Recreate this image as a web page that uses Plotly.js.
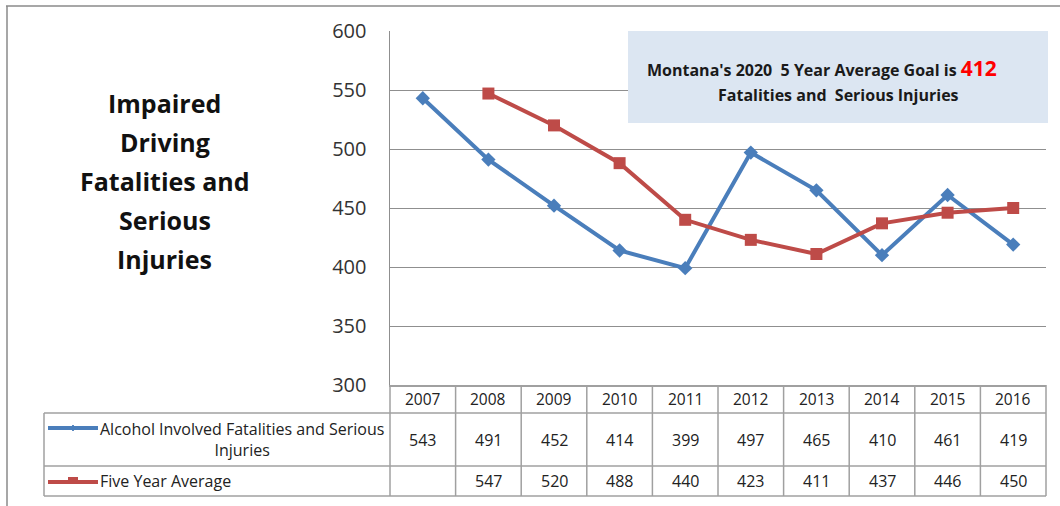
<!DOCTYPE html>
<html>
<head>
<meta charset="utf-8">
<script src="https://cdn.plot.ly/plotly-3.0.1.min.js"></script>
<style>html,body{margin:0;padding:0;background:#fff;}#chart{width:1060px;height:506px;}</style>
</head>
<body>
<div id="chart"></div>
<script>
// ---- data ----
const years = [2007, 2008, 2009, 2010, 2011, 2012, 2013, 2014, 2015, 2016];
const alcohol = [543, 491, 452, 414, 399, 497, 465, 410, 461, 419];
const fiveYearAvg = [null, 547, 520, 488, 440, 423, 411, 437, 446, 450];
const seriesNames = ["Alcohol Involved Fatalities and Serious<br>Injuries", "Five Year Average"];
const titleLines = ["Impaired", "Driving", "Fatalities and", "Serious", "Injuries"];
const goalValue = 412;

// ---- layout helpers (pixel -> paper) ----
const W = 1060, H = 506, L = 390, R = 1046, T = 31, B = 385;
const px = x => (x - L) / (R - L);
const py = y => (B - y) / (B - T);
const FONT = "'Open Sans', Lato, sans-serif";
const BLUE = "#4a7ebb", RED = "#be4b48", GRID = "#8f8f8f", TBL = "#a0a0a0";

const traces = [
  {x: years, y: alcohol, type: "scatter", mode: "lines+markers", name: "Alcohol",
   line: {color: BLUE, width: 4}, marker: {symbol: "diamond", size: 11, color: BLUE}},
  {x: years, y: fiveYearAvg, type: "scatter", mode: "lines+markers", name: "Five Year Average",
   line: {color: RED, width: 4}, marker: {symbol: "square", size: 12, color: RED}}
];

const shapes = [];
function hline(x0, x1, y, color, w) { shapes.push({type: "line", xref: "paper", yref: "paper", x0: px(x0), x1: px(x1), y0: py(y), y1: py(y), line: {color: color, width: w}}); }
function vline(x, y0, y1, color, w) { shapes.push({type: "line", xref: "paper", yref: "paper", x0: px(x), x1: px(x), y0: py(y0), y1: py(y1), line: {color: color, width: w}}); }

// outer frame (top and left visible)
hline(6, 1060, 6, "#8a8a8a", 1.5);
vline(7, 6, 506, "#8a8a8a", 1.5);

// goal box
shapes.push({type: "rect", xref: "paper", yref: "paper", x0: px(628), x1: px(1048), y0: py(123), y1: py(31),
  fillcolor: "#dce6f2", line: {width: 0}, layer: "above"});

// data table grid
const colW = (R - L) / years.length;
const r1 = 413, r2 = 466, r3 = 496;
hline(44, R, r1, TBL, 1.5);
hline(44, R, r2, TBL, 1.5);
hline(44, R, r3, TBL, 1.5);
vline(44, r1, r3, TBL, 1.5);
vline(L, 385, r3, TBL, 1.5);
for (let i = 1; i <= years.length; i++) vline(L + i * colW, 385, r3, TBL, 1.5);

// legend keys inside table
hline(48, 98, 428, BLUE, 4);
shapes.push({type: "path", xref: "paper", yref: "paper",
  path: `M ${px(73)} ${py(425)} L ${px(75)} ${py(428)} L ${px(73)} ${py(431)} L ${px(71)} ${py(428)} Z`,
  fillcolor: BLUE, line: {color: BLUE, width: 1}});
hline(48, 98, 482, RED, 4);
shapes.push({type: "rect", xref: "paper", yref: "paper", x0: px(68), x1: px(78), y0: py(483), y1: py(477),
  fillcolor: RED, line: {width: 0}});

const annotations = [];
// title lines
titleLines.forEach((t, i) => {
  annotations.push({xref: "paper", yref: "paper", x: px(165), y: py(103 + i * 39), xanchor: "center", yanchor: "middle",
    text: "<b>" + t + "</b>", showarrow: false, font: {family: FONT, size: 25, color: "#111"}});
});
// goal box text
annotations.push({xref: "paper", yref: "paper", x: px(822), y: py(68), xanchor: "center", yanchor: "middle", showarrow: false,
  text: "<b>Montana's 2020  5 Year Average Goal is </b><b><span style=\"color:#ff0000;font-size:21px\">" + goalValue + "</span></b>",
  font: {family: FONT, size: 16, color: "#1a1a1a"}});
annotations.push({xref: "paper", yref: "paper", x: px(838), y: py(95), xanchor: "center", yanchor: "middle", showarrow: false,
  text: "<b>Fatalities and  Serious Injuries</b>", font: {family: FONT, size: 16, color: "#1a1a1a"}});
// table: years header and values
years.forEach((yr, i) => {
  annotations.push({xref: "x", yref: "paper", x: yr, y: py(399), yanchor: "middle", showarrow: false,
    text: String(yr), font: {family: FONT, size: 15.5, color: "#222"}});
  annotations.push({xref: "x", yref: "paper", x: yr, y: py(440), yanchor: "middle", showarrow: false,
    text: String(alcohol[i]), font: {family: FONT, size: 16, color: "#222"}});
  if (fiveYearAvg[i] !== null)
    annotations.push({xref: "x", yref: "paper", x: yr, y: py(481), yanchor: "middle", showarrow: false,
      text: String(fiveYearAvg[i]), font: {family: FONT, size: 16, color: "#222"}});
});
// legend labels
annotations.push({xref: "paper", yref: "paper", x: px(242), y: py(439), xanchor: "center", yanchor: "middle", align: "center",
  showarrow: false, text: seriesNames[0], font: {family: FONT, size: 16, color: "#222"}});
annotations.push({xref: "paper", yref: "paper", x: px(98), y: py(481), xanchor: "left", yanchor: "middle",
  showarrow: false, text: seriesNames[1], font: {family: FONT, size: 16, color: "#222"}});

const layout = {
  width: W, height: H,
  margin: {l: L, r: W - R, t: T, b: H - B, pad: 0},
  paper_bgcolor: "#fff", plot_bgcolor: "#fff",
  showlegend: false,
  font: {family: FONT},
  xaxis: {type: "linear", range: [2006.5, 2016.5], showticklabels: false, showgrid: false, zeroline: false,
    showline: true, linecolor: TBL, linewidth: 1.5, ticks: ""},
  yaxis: {range: [300, 600], dtick: 50, tick0: 300, showgrid: true, gridcolor: GRID, gridwidth: 1, zeroline: false,
    showline: true, linecolor: GRID, linewidth: 1.5, ticks: "", ticklabelstandoff: 18,
    tickfont: {family: FONT, size: 20, color: "#333"}},
  shapes: shapes,
  annotations: annotations
};

Plotly.newPlot("chart", traces, layout, {staticPlot: true, displayModeBar: false});
</script>
</body>
</html>
